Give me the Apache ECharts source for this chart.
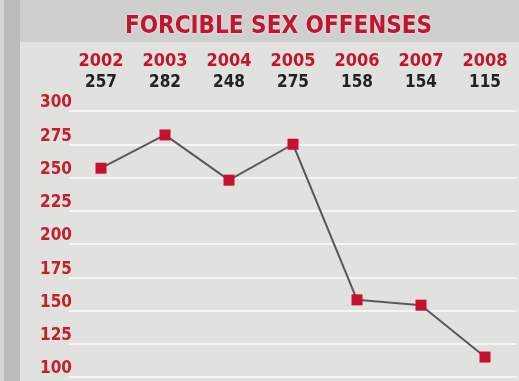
<!DOCTYPE html>
<html><head><meta charset="utf-8">
<script src="https://cdn.jsdelivr.net/npm/echarts@6/dist/echarts.min.js"></script>
<style>html,body{margin:0;padding:0;background:#cfd0cd}#c{width:519px;height:381px}</style>
</head><body><div id="c"></div>
<script>
const titleText = "FORCIBLE SEX OFFENSES";
const years = ["2002","2003","2004","2005","2006","2007","2008"];
const offenses = [257, 282, 248, 275, 158, 154, 115];
const yMin = 100, yMax = 300, yStep = 25;

const F = '"DejaVu Sans Condensed","Liberation Sans Narrow",sans-serif';
const RED = '#c0162f';
const chart = echarts.init(document.getElementById('c'), null, {renderer:'canvas'});
chart.setOption({
  backgroundColor: '#cfd0cd',
  animation: false,
  graphic: [
    {type:'rect', shape:{x:0,y:0,width:20,height:381}, style:{fill:'#bbbcba'}, z:-10},
    {type:'rect', shape:{x:0,y:0,width:4,height:381}, style:{fill:'#d4d5d3'}, z:-10},
    {type:'rect', shape:{x:20,y:42,width:499,height:339}, style:{fill:'#e1e1dd'}, z:-10}
  ],
  title: {
    text: titleText, left: 120, top: 10,
    textStyle: {color: RED, fontFamily: F, fontWeight: 'bold', fontSize: 24,
      textShadowColor: 'rgba(255,255,255,0.6)', textShadowBlur: 3}
  },
  grid: {left: 69, right: 2, top: 111, bottom: 4},
  xAxis: {
    type: 'category', data: years, position: 'top', boundaryGap: true,
    axisLine: {show:false}, axisTick: {show:false}, splitLine:{show:false},
    axisLabel: {
      margin: 17, interval: 0,
      formatter: (v, i) => '{y|' + v + '}\n{v|' + offenses[i] + '}',
      rich: {
        y: {color: RED, fontFamily: F, fontWeight: 'bold', fontSize: 18, lineHeight: 22},
        v: {color: '#222', fontFamily: F, fontWeight: 'bold', fontSize: 17, lineHeight: 22}
      }
    }
  },
  yAxis: {
    type: 'value', min: yMin, max: yMax, interval: yStep,
    axisLine: {show:false}, axisTick: {show:false},
    splitLine: {show:true, lineStyle:{color:'#f6f6f3', width:2}},
    axisLabel: {
      margin: -3, color: '#c2202f', fontFamily: F, fontWeight: 'bold', fontSize: 17,
      verticalAlign: 'bottom', lineHeight: 16
    }
  },
  series: [{
    type: 'line', data: offenses,
    symbol: 'rect', symbolSize: 11,
    lineStyle: {color: '#595959', width: 2},
    itemStyle: {color: '#c8102e'}
  }]
});
</script></body></html>
